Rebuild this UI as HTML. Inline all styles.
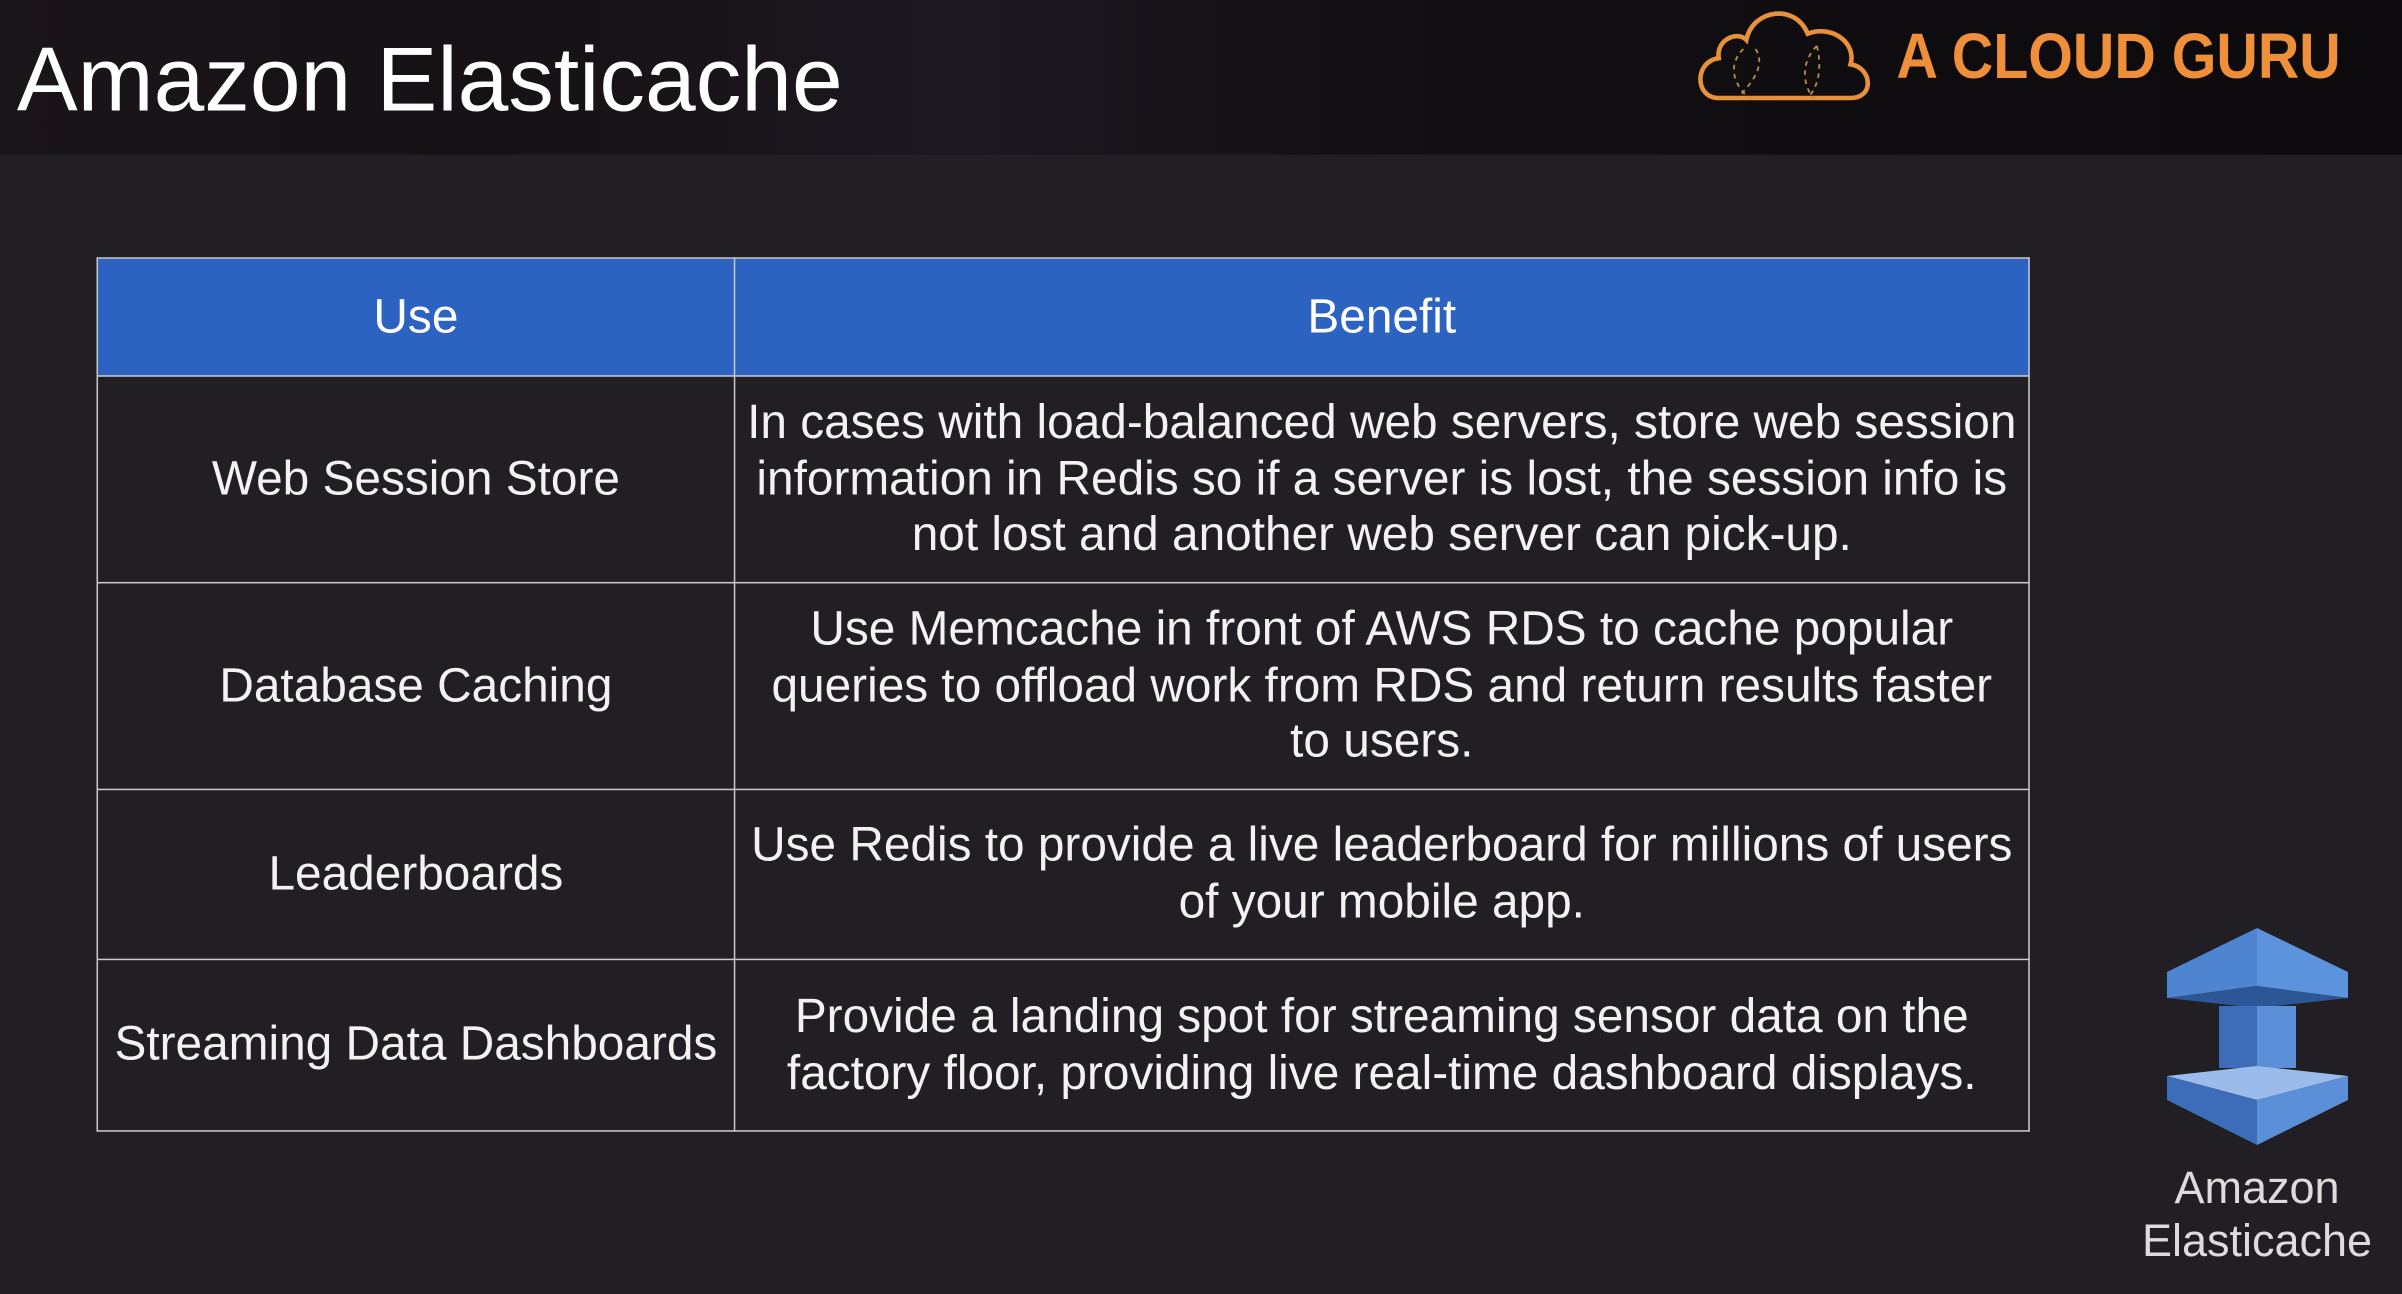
<!DOCTYPE html>
<html><head><meta charset="utf-8"><style>
html,body{margin:0;padding:0;}
body{width:2402px;height:1294px;overflow:hidden;background:#221f24;position:relative;font-family:"Liberation Sans",sans-serif;}
#w{position:absolute;left:0;top:0;width:1568px;height:845px;transform:scale(1.5319,1.5314);transform-origin:0 0;}
.band{position:absolute;left:0;top:0;width:1568px;height:101px;background:linear-gradient(90deg,#1a1519 0%,#151114 20%,#1c1820 40%,#120f12 60%,#0c0a0c 100%);}
.title{position:absolute;left:11px;top:17px;font-size:59.5px;color:#fff;white-space:nowrap;}
table{position:absolute;left:63px;top:168px;width:1262px;border-collapse:collapse;color:#f2f2f2;font-size:31.2px;}
td,th{border:1.5px solid #c9c9cc;text-align:center;padding:0 2px;line-height:36.6px;font-weight:normal;white-space:nowrap;}
th{background:#2d63c0;height:76px;color:#fff;}
.c1{width:411px;}
</style></head><body>
<div id="w">
<div class="band"></div>
<div class="title">Amazon Elasticache</div>
<svg style="position:absolute;left:1100px;top:0" width="440" height="80">
<path d="M22 64 C6 64 6 40 22 38 C20 26 34 20 40 26 C44 6 72 2 80 22 C96 16 112 28 108 42 C122 44 124 64 108 64 Z" fill="none" stroke="#e8913a" stroke-width="3"/>
<path d="M38 32 C26 44 34 58 42 64 M46 32 C54 44 40 58 34 64 M86 30 C74 42 78 58 84 64 M86 30 C90 46 86 58 80 64" fill="none" stroke="#b88a4c" stroke-width="1.2" stroke-dasharray="3 3"/>
<text x="138" y="51" font-family="Liberation Sans" font-weight="bold" font-size="42" fill="#ef8f3a" textLength="290" lengthAdjust="spacingAndGlyphs">A CLOUD GURU</text>
</svg>
<table>
<tr><th class="c1">Use</th><th>Benefit</th></tr>
<tr style="height:135px"><td class="c1">Web Session Store</td><td>In cases with load-balanced web servers, store web session<br>information in Redis so if a server is lost, the session info is<br>not lost and another web server can pick-up.</td></tr>
<tr style="height:135px"><td class="c1">Database Caching</td><td>Use Memcache in front of AWS RDS to cache popular<br>queries to offload work from RDS and return results faster<br>to users.</td></tr>
<tr style="height:111px"><td class="c1">Leaderboards</td><td>Use Redis to provide a live leaderboard for millions of users<br>of your mobile app.</td></tr>
<tr style="height:112px"><td class="c1">Streaming Data Dashboards</td><td>Provide a landing spot for streaming sensor data on the<br>factory floor, providing live real-time dashboard displays.</td></tr>
</table>
</div>
<svg style="position:absolute;left:0;top:0" width="2402" height="1294">
<polygon points="2167,972 2257,928 2257,986 2167,998" fill="#4f84d0"/>
<polygon points="2257,928 2348,972 2348,998 2257,986" fill="#5d93dc"/>
<polygon points="2167,998 2257,986 2348,998 2257,1008" fill="#2c5696"/>
<polygon points="2219,1006 2257,1006 2257,1068 2219,1068" fill="#3d6db8"/>
<polygon points="2257,1006 2296,1006 2296,1068 2257,1068" fill="#5b8fd8"/>
<polygon points="2167,1076 2257,1066 2348,1076 2257,1100" fill="#9bbbea"/>
<polygon points="2167,1076 2257,1100 2257,1145 2167,1100" fill="#3d6db8"/>
<polygon points="2257,1100 2348,1076 2348,1100 2257,1145" fill="#5b8fd8"/>
<text x="2257" y="1203" text-anchor="middle" font-family="Liberation Sans" font-size="45" fill="#dcdcdc">Amazon</text>
<text x="2257" y="1256" text-anchor="middle" font-family="Liberation Sans" font-size="45" fill="#dcdcdc">Elasticache</text>
</svg>
</body></html>
